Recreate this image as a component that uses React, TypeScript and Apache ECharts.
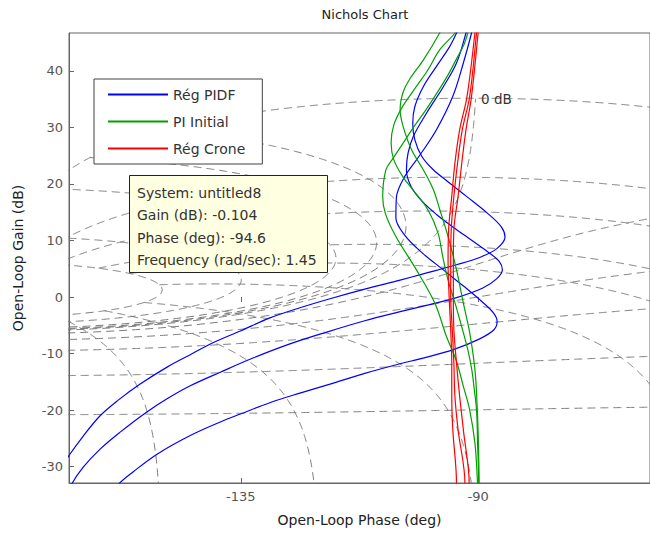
import { useEffect, useRef } from "react";
import * as echarts from "echarts";

const FONT = "'DejaVu Sans', 'Liberation Sans', Arial, sans-serif";

// Axis extents and tick values
const PHASE_MIN = -167.6;
const PHASE_MAX = -57.4;
const GAIN_MIN = -32.9;
const GAIN_MAX = 46.7;
const PHASE_TICKS = [-135, -90];
const GAIN_TICKS = [-30, -20, -10, 0, 10, 20, 30, 40];

// Nichols grid: closed-loop gain contours (dB) and closed-loop phase contours (deg)
const CLOSED_LOOP_GAINS_DB = [6, 3, 1, 0.5, 0.25, 0, -1, -3, -6, -12, -20, -40];
const CLOSED_LOOP_PHASES_DEG = [-1, -5, -10, -20, -30, -50, -90, -120, -150];

// Open-loop responses, points as [phase (deg), gain (dB)]
const pidf1: [number, number][] = [
  [-169.2, -30.4], [-167.5, -27.9], [-164.9, -24.6], [-161.7, -21.0], [-158.2, -18.2],
  [-154.1, -15.4], [-149.0, -12.4], [-144.6, -10.2], [-140.3, -8.1], [-135.1, -6.0],
  [-129.5, -3.7], [-123.8, -1.9], [-118.1, -0.3], [-111.5, 1.4], [-104.8, 3.0],
  [-100.4, 4.1], [-94.1, 5.7], [-89.7, 7.0], [-86.4, 8.6], [-84.9, 10.6], [-85.6, 12.4],
  [-88.2, 14.8], [-92.2, 17.8], [-95.6, 20.3], [-98.6, 22.6], [-100.7, 24.9],
  [-102.0, 27.8], [-102.4, 30.7], [-102.0, 33.7], [-100.4, 37.2], [-97.9, 40.8],
  [-95.4, 44.3], [-94.1, 46.7], [-93.6, 48.0],
];
const pidf2: [number, number][] = [
  [-168.3, -35.9], [-167.1, -33.1], [-164.9, -30.1], [-161.7, -26.9], [-157.9, -23.9],
  [-153.1, -20.5], [-149.0, -18.0], [-144.6, -15.7], [-138.9, -13.3], [-132.7, -10.8],
  [-125.7, -8.3], [-118.7, -6.2], [-111.5, -4.2], [-104.8, -2.6], [-100.4, -1.6],
  [-94.1, -0.1], [-89.1, 1.6], [-86.5, 3.2], [-85.4, 4.8], [-86.0, 6.3], [-88.2, 8.0],
  [-91.5, 10.2], [-94.8, 12.4], [-97.9, 14.6], [-100.6, 16.9], [-102.7, 19.5],
  [-103.6, 22.5], [-103.3, 25.4], [-102.3, 28.4], [-99.8, 32.5], [-96.6, 37.2],
  [-94.1, 41.4], [-92.3, 46.7], [-92.0, 48.0],
];
const pidf3: [number, number][] = [
  [-159.0, -34.5], [-158.2, -33.1], [-155.4, -30.9], [-150.9, -27.8], [-144.6, -24.5],
  [-138.9, -22.1], [-135.1, -20.7], [-129.5, -18.7], [-123.8, -17.0], [-118.1, -15.4],
  [-111.5, -13.5], [-104.8, -11.8], [-100.4, -10.8], [-94.7, -9.3], [-89.7, -7.4],
  [-87.0, -5.8], [-86.4, -4.3], [-87.1, -2.8], [-89.3, -0.8], [-92.6, 1.8],
  [-96.6, 4.8], [-100.6, 7.8], [-103.9, 10.9], [-105.6, 14.0], [-105.5, 17.6],
  [-104.0, 21.2], [-101.2, 24.9], [-97.9, 29.6], [-94.8, 35.5], [-92.8, 41.4],
  [-91.25, 46.7], [-91.0, 48.0],
];

const pi1: [number, number][] = [
  [-90.0, -35.0], [-90.1, -33.0], [-90.6, -25.9], [-91.6, -20.0], [-92.8, -15.8],
  [-94.2, -11.1], [-96.0, -7.0], [-98.2, -1.1], [-101.7, 4.8], [-105.6, 10.7],
  [-107.6, 14.8], [-108.1, 17.8], [-107.5, 22.5], [-106.3, 24.3], [-104.45, 26.9],
  [-102.2, 30.1], [-99.9, 33.1], [-97.8, 36.1], [-95.7, 39.3], [-94.0, 42.3],
  [-92.7, 44.6], [-91.95, 46.7], [-91.7, 48.0],
];
const pi2: [number, number][] = [
  [-89.9, -35.0], [-89.9, -33.0], [-90.1, -25.9], [-90.3, -20.0], [-90.8, -15.8],
  [-91.2, -12.9], [-91.95, -9.35], [-93.1, -5.3], [-94.4, -1.0], [-95.7, 3.0],
  [-96.7, 7.1], [-97.6, 11.3], [-99.5, 15.4], [-102.4, 19.0], [-104.3, 21.3],
  [-106.0, 24.3], [-106.5, 27.3], [-106.0, 30.4], [-104.45, 33.5], [-102.2, 36.6],
  [-99.5, 40.2], [-97.3, 43.7], [-94.4, 46.7], [-93.8, 48.0],
];
const pi3: [number, number][] = [
  [-89.8, -35.0], [-89.85, -30.0], [-90.0, -24.0], [-90.2, -19.0], [-90.6, -12.9],
  [-91.6, -6.3], [-92.8, -1.1], [-94.1, 4.8], [-95.7, 10.7], [-97.25, 15.4],
  [-98.5, 19.0], [-100.4, 22.5], [-102.6, 26.0], [-104.2, 30.1], [-104.8, 33.1],
  [-104.2, 36.3], [-102.8, 38.8], [-100.4, 41.9], [-97.3, 46.7], [-96.8, 48.0],
];

const crone1: [number, number][] = [
  [-94.1, -34.0], [-94.1, -33.0], [-94.8, -23.5], [-95.0, -17.6], [-95.0, -11.7],
  [-95.2, -5.8], [-95.5, 0.1], [-95.7, 6.0], [-95.6, 11.9], [-95.0, 17.8],
  [-94.4, 23.7], [-93.5, 29.6], [-92.1, 35.5], [-90.6, 46.7], [-90.5, 48.0],
];
const crone2: [number, number][] = [
  [-92.5, -34.0], [-92.5, -33.0], [-93.8, -23.5], [-94.4, -17.6], [-94.6, -11.7],
  [-94.9, -5.8], [-95.2, 0.1], [-95.2, 6.0], [-95.1, 11.9], [-94.6, 17.8],
  [-93.9, 23.7], [-93.0, 29.6], [-91.6, 35.5], [-90.3, 46.7], [-90.2, 48.0],
];
const crone3: [number, number][] = [
  [-91.7, -34.0], [-91.7, -33.0], [-92.8, -23.5], [-93.5, -17.6], [-94.1, -11.7],
  [-94.6, -5.8], [-94.7, 0.1], [-94.7, 6.0], [-94.6, 11.9], [-93.8, 17.8],
  [-93.1, 23.7], [-92.3, 29.6], [-91.25, 35.5], [-90.0, 46.7], [-89.9, 48.0],
];

const LEGEND_NAMES = ["Rég PIDF", "PI Initial", "Rég Crone"];
const LINE_COLORS = ["#0000ff", "#00a000", "#ff0000"];
const RESPONSES = [
  { family: 0, data: pidf1 }, { family: 0, data: pidf2 }, { family: 0, data: pidf3 },
  { family: 1, data: pi1 }, { family: 1, data: pi2 }, { family: 1, data: pi3 },
  { family: 2, data: crone1 }, { family: 2, data: crone2 }, { family: 2, data: crone3 },
];

const DATATIP_LINES = [
  "System: untitled8",
  "Gain (dB): -0.104",
  "Phase (deg): -94.6",
  "Frequency (rad/sec): 1.45",
];

const DEG = Math.PI / 180;
const WINDOW = { pMin: -200, pMax: -30, gMin: -70, gMax: 80 };
// Closed-loop ranges spanned by the grid lines
const PHASE_SPAN = { min: Math.min(...CLOSED_LOOP_PHASES_DEG.map(Math.abs)) };
const GAIN_SPAN = { max: Math.max(...CLOSED_LOOP_GAINS_DB) };

// Closed-loop response T = L / (1 + L) for an open-loop point L
function closedLoop(re: number, im: number) {
  const dr = 1 + re;
  const den = dr * dr + im * im;
  const tr = (re * dr + im * im) / den;
  const ti = (im * dr - re * im) / den;
  return { gainDb: 20 * Math.log10(Math.hypot(tr, ti)), phase: Math.atan2(ti, tr) / DEG };
}

// Split a sampled polyline at rejected samples and outside a padded view window
function toSegments(pts: (number[] | null)[]): number[][][] {
  const out: number[][][] = [];
  let cur: number[][] = [];
  for (const p of pts) {
    const ok =
      p !== null &&
      p[0] >= WINDOW.pMin && p[0] <= WINDOW.pMax && p[1] >= WINDOW.gMin && p[1] <= WINDOW.gMax;
    if (ok) cur.push(p as number[]);
    else {
      if (cur.length > 1) out.push(cur);
      cur = [];
    }
  }
  if (cur.length > 1) out.push(cur);
  return out;
}

function nicholsPoint(re: number, im: number): number[] | null {
  const mag = Math.hypot(re, im);
  if (mag < 1e-7) return null;
  let ph = Math.atan2(im, re) / DEG;
  if (ph > 0) ph -= 360;
  return [ph, 20 * Math.log10(mag)];
}

// Open-loop locus of a constant closed-loop gain, kept where the closed-loop phase is in the grid span
function isoGain(mdb: number): number[][][] {
  const m = Math.pow(10, mdb / 20);
  const pts: (number[] | null)[] = [];
  const accept = (re: number, im: number) => {
    const cl = closedLoop(re, im);
    return Math.abs(cl.phase) >= PHASE_SPAN.min ? nicholsPoint(re, im) : null;
  };
  if (Math.abs(m - 1) < 1e-9) {
    for (let g = -6.0; g <= 80; g += 0.05) {
      const r = Math.pow(10, g / 20);
      const c = -1 / (2 * r);
      if (c < -1) continue;
      const ph = -Math.acos(c);
      pts.push(accept(r * Math.cos(ph), r * Math.sin(ph)));
    }
    return toSegments(pts);
  }
  const center = (m * m) / (1 - m * m);
  const radius = Math.abs(m / (1 - m * m));
  const n = 2880;
  for (let k = 1; k < n; k++) {
    const th = (2 * Math.PI * k) / n;
    pts.push(accept(center + radius * Math.cos(th), radius * Math.sin(th)));
  }
  return toSegments(pts);
}

// Open-loop locus of a constant closed-loop phase, kept where the closed-loop gain is in the grid span
function isoPhase(psi: number): number[][][] {
  const cot = Math.cos(psi * DEG) / Math.sin(psi * DEG);
  const pts: (number[] | null)[] = [];
  for (let ph = -195; ph <= -35; ph += 0.05) {
    const t = -Math.cos(ph * DEG) + Math.sin(ph * DEG) * cot;
    if (t <= 1e-4) {
      pts.push(null);
      continue;
    }
    const re = t * Math.cos(ph * DEG);
    const im = t * Math.sin(ph * DEG);
    pts.push(closedLoop(re, im).gainDb <= GAIN_SPAN.max ? [ph, 20 * Math.log10(t)] : null);
  }
  return toSegments(pts);
}

export default function App() {
  const ref = useRef<HTMLDivElement>(null);

  useEffect(() => {
    if (!ref.current) return;
    const chart = echarts.init(ref.current, undefined, { renderer: "svg" });

    const gridSegments = [
      ...CLOSED_LOOP_GAINS_DB.flatMap(isoGain),
      ...CLOSED_LOOP_PHASES_DEG.flatMap(isoPhase),
    ];
    const gridSeries = gridSegments.map((seg) => ({
      type: "line",
      data: seg,
      symbol: "none",
      silent: true,
      z: 1,
      lineStyle: { color: "#7a7a7a", width: 1, type: [8, 5] },
    }));

    const responseSeries = RESPONSES.map((r) => ({
      type: "line",
      name: LEGEND_NAMES[r.family],
      data: r.data,
      symbol: "none",
      smooth: 0.35,
      z: 3,
      color: LINE_COLORS[r.family],
      lineStyle: { color: LINE_COLORS[r.family], width: 1.2 },
    }));

    const axisColor = "#666";
    const labelColor = "#555";

    chart.setOption({
      animation: false,
      title: {
        text: "Nichols Chart",
        left: 360,
        top: 3,
        textAlign: "center",
        textStyle: { fontFamily: FONT, fontSize: 13, fontWeight: "normal", color: "#222" },
      },
      grid: {
        left: 69,
        top: 33,
        width: 582,
        height: 450,
        show: true,
        borderColor: axisColor,
        borderWidth: 1,
        backgroundColor: "#fff",
      },
      legend: {
        data: LEGEND_NAMES,
        orient: "vertical",
        left: 94,
        top: 79,
        icon: "rect",
        itemWidth: 60,
        itemHeight: 2,
        itemGap: 10,
        padding: [7, 17, 7, 14],
        backgroundColor: "#fff",
        borderColor: "#404040",
        borderWidth: 1,
        selectedMode: false,
        textStyle: { fontFamily: FONT, fontSize: 14, color: "#333", lineHeight: 17 },
      },
      xAxis: [
        {
          type: "value",
          min: PHASE_MIN,
          max: PHASE_MAX,
          position: "bottom",
          axisLine: { show: true, onZero: false, lineStyle: { color: axisColor } },
          axisTick: { show: true, inside: true, length: 5, customValues: PHASE_TICKS, lineStyle: { color: axisColor } },
          axisLabel: { customValues: PHASE_TICKS, margin: 7, color: labelColor, fontSize: 13, fontFamily: FONT },
          splitLine: { show: false },
          name: "Open-Loop Phase (deg)",
          nameLocation: "middle",
          nameGap: 30,
          nameTextStyle: { fontFamily: FONT, fontSize: 14, color: "#222" },
        },
        {
          type: "value",
          min: PHASE_MIN,
          max: PHASE_MAX,
          position: "top",
          axisLine: { show: false },
          axisTick: { show: true, inside: true, length: 5, customValues: PHASE_TICKS, lineStyle: { color: axisColor } },
          axisLabel: { show: false },
          splitLine: { show: false },
        },
      ],
      yAxis: [
        {
          type: "value",
          min: GAIN_MIN,
          max: GAIN_MAX,
          position: "left",
          axisLine: { show: true, onZero: false, lineStyle: { color: axisColor } },
          axisTick: { show: true, inside: true, length: 5, customValues: GAIN_TICKS, lineStyle: { color: axisColor } },
          axisLabel: { customValues: GAIN_TICKS, margin: 6, color: labelColor, fontSize: 13, fontFamily: FONT },
          splitLine: { show: false },
          name: "Open-Loop Gain (dB)",
          nameLocation: "middle",
          nameRotate: 90,
          nameGap: 44,
          nameTextStyle: { fontFamily: FONT, fontSize: 14, color: "#222" },
        },
      ],
      series: [...gridSeries, ...responseSeries],
      graphic: [
        {
          type: "text",
          x: 481,
          y: 99,
          z: 50,
          style: { text: "0 dB", fill: "#333", fontSize: 13.5, fontFamily: FONT, verticalAlign: "middle" },
        },
        {
          type: "group",
          z: 100,
          children: [
            {
              type: "rect",
              shape: { x: 129.5, y: 175.5, width: 198, height: 97 },
              style: { fill: "#ffffe1", stroke: "#222", lineWidth: 1 },
              z: 100,
            },
            ...DATATIP_LINES.map((t, i) => ({
              type: "text",
              x: 137,
              y: 193 + i * 22.4,
              z: 101,
              style: { text: t, fill: "#333", fontSize: 14, fontFamily: FONT, verticalAlign: "middle" },
            })),
          ],
        },
      ],
    });

    return () => chart.dispose();
  }, []);

  return (
    <div
      ref={ref}
      style={{ position: "fixed", left: 0, top: 0, width: 650, height: 533, background: "#fff" }}
    />
  );
}
